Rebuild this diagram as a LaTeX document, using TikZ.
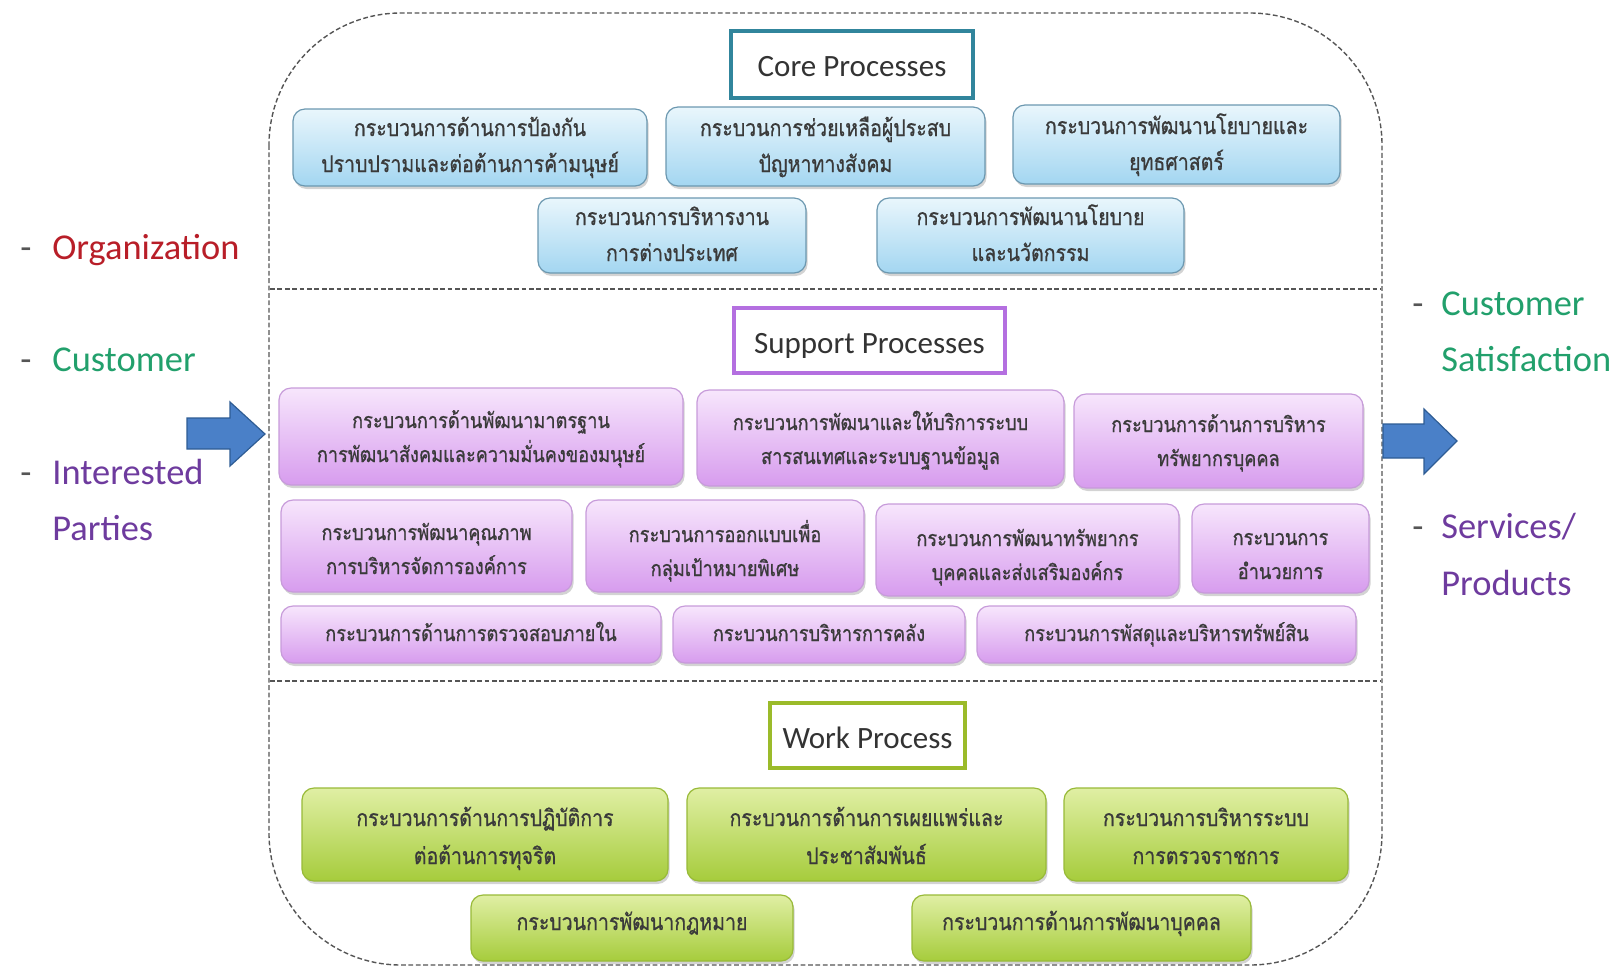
\documentclass[tikz,border=0pt]{standalone}
\usepackage{fontspec}
\setmainfont{Carlito}
\newfontfamily\thai[Script=Thai, FakeStretch=0.85, FakeBold=0.8]{Loma}
\usetikzlibrary{shadows}

\definecolor{thaigray}{HTML}{3A3A3A}
\definecolor{headgray}{HTML}{333333}
\definecolor{dashgray}{HTML}{555555}
\definecolor{coreline}{HTML}{31859C}
\definecolor{coretop}{HTML}{E9F6FC}
\definecolor{corebot}{HTML}{A3D6F1}
\definecolor{coredraw}{HTML}{6C98B0}
\definecolor{suppline}{HTML}{B46FE0}
\definecolor{supptop}{HTML}{F7E6FC}
\definecolor{suppbot}{HTML}{D79CEE}
\definecolor{suppdraw}{HTML}{C79BDA}
\definecolor{workline}{HTML}{9BBB2A}
\definecolor{worktop}{HTML}{E0EFA4}
\definecolor{workbot}{HTML}{A6CC3C}
\definecolor{workdraw}{HTML}{98BA38}
\definecolor{orgred}{HTML}{B81E28}
\definecolor{custgreen}{HTML}{22A06C}
\definecolor{partypurple}{HTML}{6E3B9E}
\definecolor{arrowfill}{HTML}{4A80C8}
\definecolor{arrowline}{HTML}{2E5C94}

\newcommand{\dashitem}[2][14.5pt]{\makebox[#1][l]{\textcolor{dashgray}{-}}#2}
\newcommand{\nodash}[2][14.5pt]{\makebox[#1][l]{}#2}
\newcommand{\twoline}[2]{\begin{tabular}[b]{@{}c@{}}#1\\#2\end{tabular}}

\tikzset{
    % box from left:top:right:bottom:baseline, all in pixels
    boxat/.code args={#1:#2:#3:#4:#5}{
        \pgfmathsetmacro\boxcx{(#1+#3)/2}
        \pgfmathsetmacro\boxwd{(#3-#1)*0.5}
        \pgfmathsetmacro\boxht{(#5-#2)*0.5}
        \pgfmathsetmacro\boxdp{(#4-#5)*0.5}
        \edef\boxkeys{/tikz/at={(\boxcx,#5)}, /tikz/anchor=base,
            /pgf/minimum width=\boxwd pt,
            /tikz/text height=\boxht pt, /tikz/text depth=\boxdp pt}
        \expandafter\pgfkeysalso\expandafter{\boxkeys}
    },
    procbox/.style={
        rounded corners=6pt,
        line width=0.6pt,
        inner sep=0pt,
        text=thaigray,
        drop shadow={shadow xshift=0.8pt, shadow yshift=-1.5pt, opacity=0.35}
    },
    corebox/.style={procbox, draw=coredraw, top color=coretop, bottom color=corebot,
        font=\thai\fontsize{11.5}{18}\selectfont},
    suppbox/.style={procbox, draw=suppdraw, top color=supptop, bottom color=suppbot,
        font=\thai\fontsize{10.7}{17}\selectfont},
    workbox/.style={procbox, draw=workdraw, top color=worktop, bottom color=workbot,
        font=\thai\fontsize{11.5}{19}\selectfont},
    headbox/.style={
        draw,
        line width=2pt,
        fill=white,
        inner sep=0pt,
        text=headgray,
        font=\fontsize{15.5}{18}\selectfont
    },
    sidelbl/.style={anchor=base west, inner sep=0pt, font=\fontsize{18.2}{20}\selectfont},
    blockarrow/.style={fill=arrowfill, draw=arrowline, line width=0.6pt, line join=miter}
}

\begin{document}
\begin{tikzpicture}[x=0.5pt, y=-0.5pt]

    \useasboundingbox (0,0) rectangle (1624,971);

    % dashed frame and section lines
    \draw[dashgray, line width=0.7pt, dash pattern=on 2.4pt off 1.3pt, rounded corners=66pt]
        (269,13) rectangle (1382,965);
    \draw[dashgray, line width=0.7pt, dash pattern=on 2.4pt off 1.3pt] (270,289) -- (1381,289);
    \draw[dashgray, line width=0.7pt, dash pattern=on 2.4pt off 1.3pt] (270,681) -- (1381,681);

    % core processes
    \node[headbox, draw=coreline, boxat=731:31:973:98:76] (core) {Core Processes};

    \node[corebox, boxat=293:109:647:186:172] (cHuman)
        {\twoline{กระบวนการด้านการป้องกัน}{ปราบปรามและต่อต้านการค้ามนุษย์}};
    \node[corebox, boxat=666:107:985:186:172] (cRelief)
        {\twoline{กระบวนการช่วยเหลือผู้ประสบ}{ปัญหาทางสังคม}};
    \node[corebox, boxat=1013:105:1340:184:170] (cStrategy)
        {\twoline{กระบวนการพัฒนานโยบายและ}{ยุทธศาสตร์}};
    \node[corebox, boxat=538:198:806:273:261] (cForeign)
        {\twoline{กระบวนการบริหารงาน}{การต่างประเทศ}};
    \node[corebox, boxat=877:198:1184:273:261] (cInnov)
        {\twoline{กระบวนการพัฒนานโยบาย}{และนวัตกรรม}};

    % support processes
    \node[headbox, draw=suppline, boxat=734:308:1005:373:353] (support) {Support Processes};

    \node[suppbox, boxat=279:388:683:485:462] (sStandard)
        {\twoline{กระบวนการด้านพัฒนามาตรฐาน}{การพัฒนาสังคมและความมั่นคงของมนุษย์}};
    \node[suppbox, boxat=697:390:1064:486:464] (sIT)
        {\twoline{กระบวนการพัฒนาและให้บริการระบบ}{สารสนเทศและระบบฐานข้อมูล}};
    \node[suppbox, boxat=1074:394:1363:488:466] (sHR)
        {\twoline{กระบวนการด้านการบริหาร}{ทรัพยากรบุคคล}};
    \node[suppbox, boxat=281:500:572:592:574] (sQuality)
        {\twoline{กระบวนการพัฒนาคุณภาพ}{การบริหารจัดการองค์การ}};
    \node[suppbox, boxat=586:500:864:592:576] (sDesign)
        {\twoline{กระบวนการออกแบบเพื่อ}{กลุ่มเป้าหมายพิเศษ}};
    \node[suppbox, boxat=876:504:1179:596:580] (sPeople)
        {\twoline{กระบวนการพัฒนาทรัพยากร}{บุคคลและส่งเสริมองค์กร}};
    \node[suppbox, boxat=1192:504:1369:593:579] (sAdmin)
        {\twoline{กระบวนการ}{อำนวยการ}};
    \node[suppbox, boxat=281:606:661:663:641] (sAudit)
        {กระบวนการด้านการตรวจสอบภายใน};
    \node[suppbox, boxat=673:606:965:663:641] (sFinance)
        {กระบวนการบริหารการคลัง};
    \node[suppbox, boxat=977:606:1356:663:641] (sAsset)
        {กระบวนการพัสดุและบริหารทรัพย์สิน};

    % work process
    \node[headbox, draw=workline, boxat=770:703:965:768:748] (work) {Work Process};

    \node[workbox, boxat=302:788:668:881:864] (wCorrupt)
        {\twoline{กระบวนการด้านการปฏิบัติการ}{ต่อต้านการทุจริต}};
    \node[workbox, boxat=687:788:1046:881:864] (wPR)
        {\twoline{กระบวนการด้านการเผยแพร่และ}{ประชาสัมพันธ์}};
    \node[workbox, boxat=1064:788:1348:881:864] (wInspect)
        {\twoline{กระบวนการบริหารระบบ}{การตรวจราชการ}};
    \node[workbox, boxat=471:895:793:961:930] (wLaw)
        {กระบวนการพัฒนากฎหมาย};
    \node[workbox, boxat=912:895:1251:961:930] (wStaff)
        {กระบวนการด้านการพัฒนาบุคคล};

    % inputs
    \node[sidelbl, text=orgred] (org) at (20,259) {\dashitem[16pt]{Organization}};
    \node[sidelbl, text=custgreen] (cust) at (20,371) {\dashitem[16pt]{Customer}};
    \node[sidelbl, text=partypurple] (interest) at (20,484) {\dashitem[16pt]{Interested}};
    \node[sidelbl, text=partypurple] (parties) at (20,540) {\nodash[16pt]{Parties}};

    \draw[blockarrow] (187,418) -- (230,418) -- (230,402) -- (265,434)
        -- (230,466) -- (230,449) -- (187,449) -- cycle;

    % outputs
    \draw[blockarrow] (1383,424) -- (1424,424) -- (1424,409) -- (1457,441)
        -- (1424,474) -- (1424,458) -- (1383,458) -- cycle;

    \node[sidelbl, text=custgreen] (satis1) at (1412,315) {\dashitem{Customer}};
    \node[sidelbl, text=custgreen] (satis2) at (1412,371) {\nodash{Satisfaction}};
    \node[sidelbl, text=partypurple] (serv) at (1412,538) {\dashitem{Services/}};
    \node[sidelbl, text=partypurple] (prod) at (1412,595) {\nodash{Products}};

\end{tikzpicture}
\end{document}
